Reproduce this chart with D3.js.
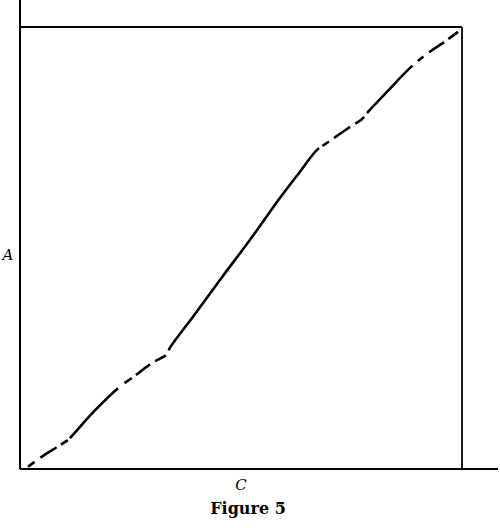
<!DOCTYPE html>
<html>
<head>
<meta charset="utf-8">
<script src="https://cdn.jsdelivr.net/npm/d3@7/dist/d3.min.js"></script>
<style>
  html, body { margin: 0; padding: 0; background: #fff; }
  svg { display: block; }
</style>
</head>
<body>
<script>
// Data (normalised units, 0..1 on both axes)
const cValues = [0.018, 0.048, 0.084, 0.109, 0.115, 0.170, 0.222, 0.256, 0.299, 0.333, 0.339,
                 0.391, 0.457, 0.520, 0.588, 0.633, 0.672, 0.695, 0.742, 0.774, 0.783, 0.830,
                 0.882, 0.923, 0.957, 0.991];
const aValues = [0.005, 0.027, 0.050, 0.066, 0.072, 0.133, 0.183, 0.208, 0.240, 0.260, 0.274,
                 0.344, 0.434, 0.518, 0.613, 0.672, 0.722, 0.738, 0.771, 0.792, 0.803, 0.853,
                 0.907, 0.941, 0.964, 0.989];
const xLabel = "C";
const yLabel = "A";
const caption = "Figure 5";
// dash / gap pattern along the curve (style, relative lengths)
const dashPattern = [8,7,19,5,8,3,68,8,9,5,17,6,12,6,247,4,8,6,19,6,11,5,64,7,7,7,18,5,12];

const W = 500, H = 528;
const svg = d3.select("body").append("svg").attr("width", W).attr("height", H);

const x = d3.scaleLinear().domain([0, 1]).range([20, 462]);
const y = d3.scaleLinear().domain([0, 1]).range([469, 27]);

const g = svg.append("g").attr("stroke", "#000").attr("fill", "none");
// frame
g.append("line").attr("x1", x(0)).attr("x2", x(0)).attr("y1", 0).attr("y2", y(0)).attr("stroke-width", 2);
g.append("line").attr("x1", x(0)).attr("x2", 498).attr("y1", y(0)).attr("y2", y(0)).attr("stroke-width", 2);
g.append("line").attr("x1", x(0)).attr("x2", x(1)).attr("y1", y(1)).attr("y2", y(1)).attr("stroke-width", 1.8);
g.append("line").attr("x1", x(1)).attr("x2", x(1)).attr("y1", y(1)).attr("y2", y(0)).attr("stroke-width", 1.8);

const pts = cValues.map((c, i) => [c, aValues[i]]);
const line = d3.line().x(d => x(d[0])).y(d => y(d[1])).curve(d3.curveCatmullRom.alpha(0.5));
const path = g.append("path").datum(pts).attr("d", line)
  .attr("stroke-width", 2.6).attr("stroke-linecap", "butt").attr("stroke-linejoin", "round");
const total = path.node().getTotalLength();
const sum = d3.sum(dashPattern);
path.attr("stroke-dasharray", dashPattern.map(v => (v * total / sum).toFixed(2)).join(","));

// labels
svg.append("text").attr("x", 8).attr("y", 260).attr("text-anchor", "middle")
  .style("font-family", "'DejaVu Serif', serif").style("font-style", "italic").style("font-size", "15px")
  .text(yLabel);
svg.append("text").attr("x", x(0.5)).attr("y", 490).attr("text-anchor", "middle")
  .style("font-family", "'DejaVu Serif', serif").style("font-style", "italic").style("font-size", "15px")
  .text(xLabel);
svg.append("text").attr("x", 248).attr("y", 514).attr("text-anchor", "middle")
  .style("font-family", "'DejaVu Serif', serif").style("font-weight", "bold").style("font-size", "16px")
  .text(caption);
</script>
</body>
</html>
